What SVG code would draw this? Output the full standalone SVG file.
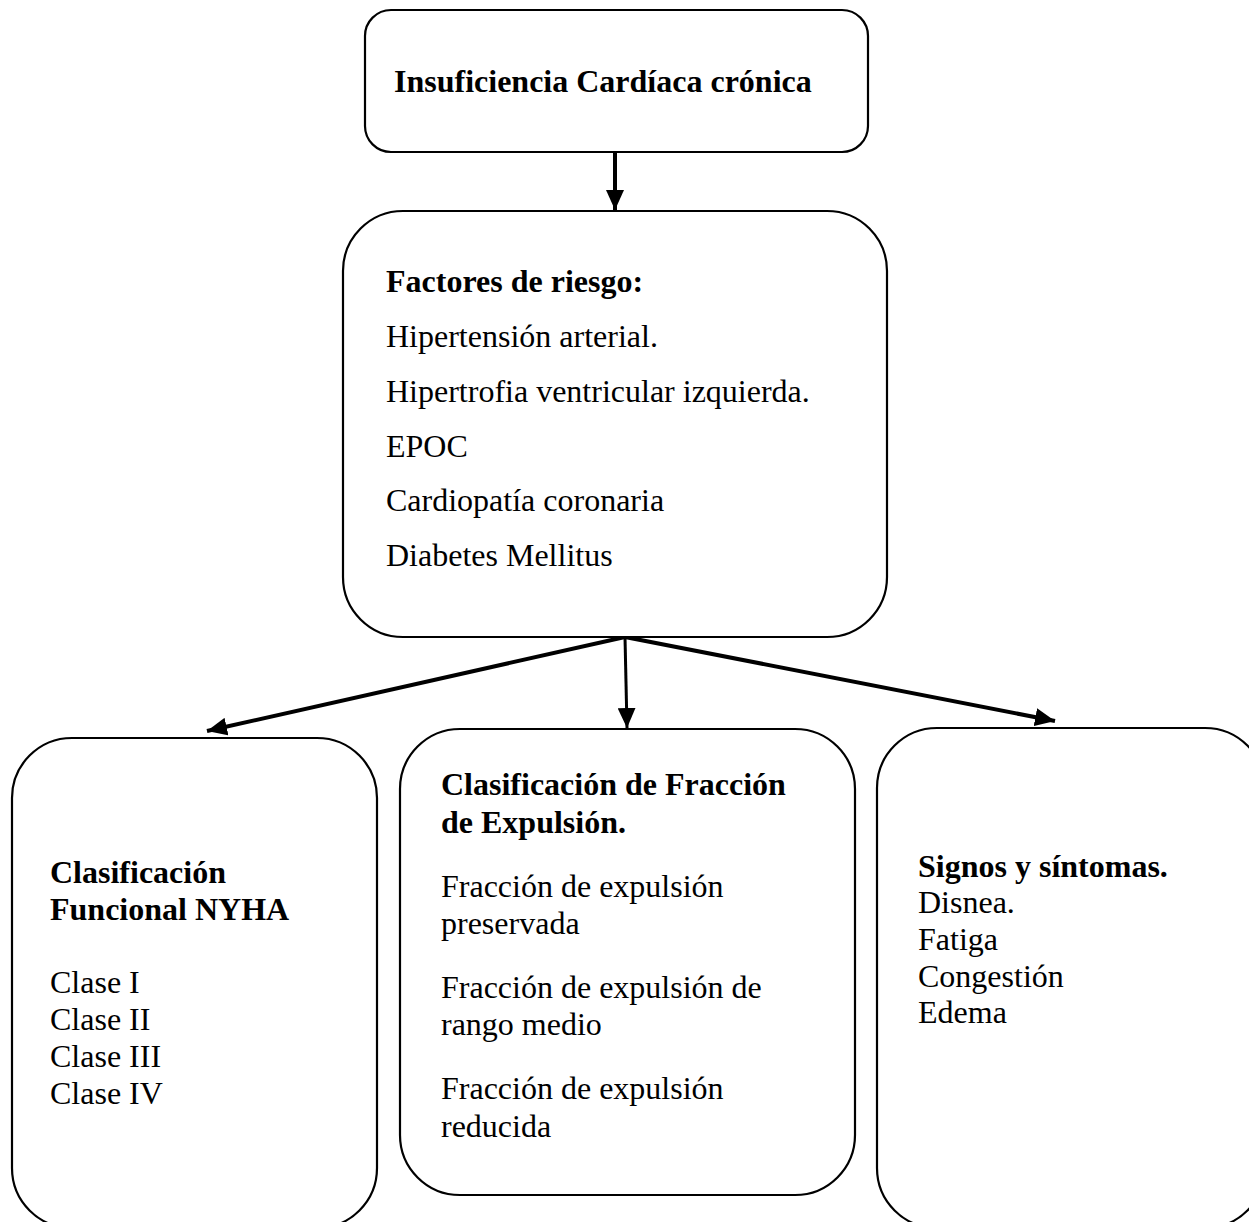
<svg xmlns="http://www.w3.org/2000/svg" width="1249" height="1222" viewBox="0 0 1249 1222">
<style>
.box{fill:#fff;stroke:#000;stroke-width:2.2}
.t{font-family:"Liberation Serif","Times New Roman",serif;font-size:32px;fill:#000}
.b{font-weight:bold}
.c{stroke:#000;fill:none}
</style>
<defs>
<marker id="ah" markerUnits="userSpaceOnUse" markerWidth="20" markerHeight="18" viewBox="0 0 20 18" refX="20" refY="9" orient="auto">
<path d="M0,0 L20,9 L0,18 Z" fill="#000"/>
</marker>
</defs>
<rect width="1249" height="1222" fill="#fff"/>
<g id="connectors">
<line class="c" x1="615" y1="152" x2="615" y2="210" stroke-width="4" marker-end="url(#ah)"/>
<line class="c" x1="625" y1="637" x2="207" y2="731" stroke-width="4" marker-end="url(#ah)"/>
<line class="c" x1="625" y1="637" x2="627" y2="728" stroke-width="3" marker-end="url(#ah)"/>
<line class="c" x1="625" y1="637" x2="1055" y2="721" stroke-width="4" marker-end="url(#ah)"/>
</g>
<g id="node-ic">
<rect class="box" x="365" y="10" width="503" height="142" rx="26"/>
<text class="t b" x="394" y="92">Insuficiencia Cardíaca crónica</text>
</g>
<g id="node-factores">
<rect class="box" x="343" y="211" width="544" height="426" rx="60"/>
<text class="t b" x="386" y="292">Factores de riesgo:</text>
<text class="t" x="386" y="347">Hipertensión arterial.</text>
<text class="t" x="386" y="402">Hipertrofia ventricular izquierda.</text>
<text class="t" x="386" y="457">EPOC</text>
<text class="t" x="386" y="511">Cardiopatía coronaria</text>
<text class="t" x="386" y="566">Diabetes Mellitus</text>
</g>
<g id="node-nyha">
<rect class="box" x="12" y="738" width="365" height="490" rx="60"/>
<text class="t b" x="50" y="883">Clasificación</text>
<text class="t b" x="50" y="920">Funcional NYHA</text>
<text class="t" x="50" y="993">Clase I</text>
<text class="t" x="50" y="1030">Clase II</text>
<text class="t" x="50" y="1067">Clase III</text>
<text class="t" x="50" y="1104">Clase IV</text>
</g>
<g id="node-fe">
<rect class="box" x="400" y="729" width="455" height="466" rx="60"/>
<text class="t b" x="441" y="795">Clasificación de Fracción</text>
<text class="t b" x="441" y="833">de Expulsión.</text>
<text class="t" x="441" y="897">Fracción de expulsión</text>
<text class="t" x="441" y="934">preservada</text>
<text class="t" x="441" y="998">Fracción de expulsión de</text>
<text class="t" x="441" y="1035">rango medio</text>
<text class="t" x="441" y="1099">Fracción de expulsión</text>
<text class="t" x="441" y="1137">reducida</text>
</g>
<g id="node-signos">
<rect class="box" x="877" y="728" width="388" height="500" rx="60"/>
<text class="t b" x="918" y="877">Signos y síntomas.</text>
<text class="t" x="918" y="913">Disnea.</text>
<text class="t" x="918" y="950">Fatiga</text>
<text class="t" x="918" y="987">Congestión</text>
<text class="t" x="918" y="1023">Edema</text>
</g>
</svg>
